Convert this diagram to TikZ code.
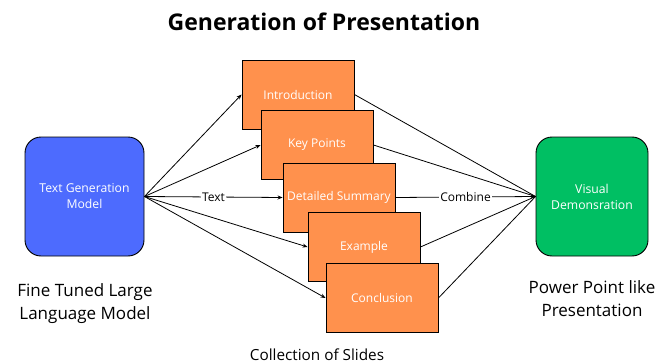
\documentclass[tikz,border=0pt]{standalone}
\usepackage{fontspec}
\setmainfont{Open Sans}
\usetikzlibrary{arrows.meta}
\definecolor{bblue}{HTML}{4D6BFE}
\definecolor{oorange}{HTML}{FF914D}
\definecolor{ggreen}{HTML}{00BF63}
\begin{document}
\begin{tikzpicture}[x=1pt,y=-1pt,
  bigbox/.style={draw=black,line width=0.9pt,rounded corners=16pt,minimum width=119pt,minimum height=119pt,text=white,font=\fontsize{12.2}{16}\selectfont,align=center,inner sep=0pt},
  slide/.style={draw=black,line width=0.9pt,fill=oorange,minimum width=112pt,minimum height=69pt,text=white,font=\fontsize{12}{14}\selectfont,inner sep=0pt},
  conn/.style={line width=0.8pt,-{Stealth[length=5pt,width=4pt]}},
  plain/.style={line width=0.8pt},
  lbl/.style={fill=white,inner sep=1.5pt,font=\fontsize{12}{14}\selectfont},
  captxt/.style={font=\fontsize{17}{23}\selectfont,align=center}]
\useasboundingbox (0,0) rectangle (670,364);
\node[font=\bfseries\fontsize{23}{27}\selectfont] (title) at (324,22) {Generation of Presentation};
\node[bigbox,fill=bblue] (tg) at (84.5,196.5) {Text Generation\\Model};
\node[bigbox,fill=ggreen,minimum width=112pt] (vd) at (592,196.5) {Visual\\Demonsration};
% slides (drawn back to front)
\node[slide] (intro) at (298,94.5) {Introduction};
\node[slide] (key) at (317,145) {Key Points};
\node[slide] (det) at (339,197.5) {Detailed Summary};
\node[slide] (ex) at (364,247) {Example};
\node[slide] (conc) at (382,298) {Conclusion};
% incoming
\draw[conn] (tg.east) -- (intro.west);
\draw[conn] (tg.east) -- (key.west);
\draw[conn] (tg.east) -- node[lbl] {Text} (det.west);
\draw[conn] (tg.east) -- (ex.west);
\draw[conn] (tg.east) -- (conc.west);
% outgoing
\draw[plain] (intro.east) -- (vd.west);
\draw[plain] (key.east) -- (vd.west);
\draw[conn] (det.east) -- node[lbl] {Combine} (vd.west);
\draw[plain] (ex.east) -- (vd.west);
\draw[plain] (conc.east) -- (vd.west);
% captions
\node[captxt] (ft) at (85,304) {Fine Tuned Large\\Language Model};
\node[captxt] (pp) at (592,299) {Power Point like\\Presentation};
\node[captxt,font=\fontsize{15.3}{18}\selectfont] (cs) at (317,355) {Collection of Slides};
\end{tikzpicture}
\end{document}
